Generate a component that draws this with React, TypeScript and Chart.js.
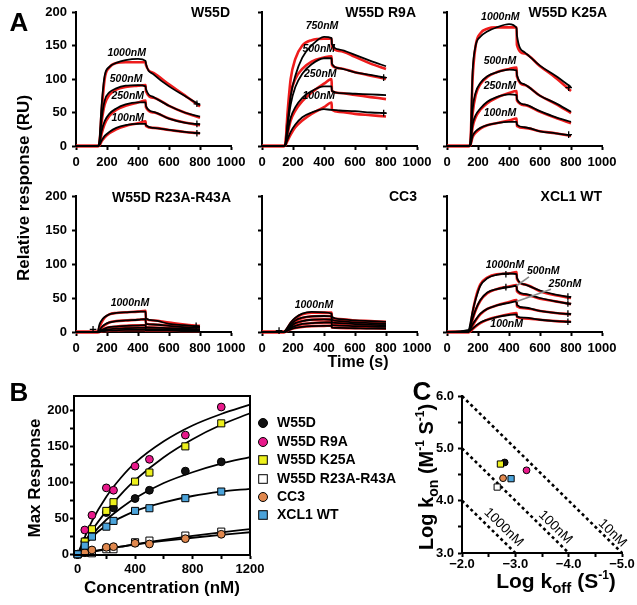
import React, { useEffect, useRef } from 'react';
import { Chart, registerables } from 'chart.js';

Chart.register(...registerables);

const FONT = 'Arial, "Liberation Sans", Helvetica, sans-serif';
const PAGE_W = 637;
const PAGE_H = 605;

/* ================= Panel A : SPR sensorgrams ================= */
const TIME_S = [0, 140, 150, 165, 185, 215, 260, 320, 400, 449, 451, 500, 600, 700, 800];
const A_X_TICKS = [0, 200, 400, 600, 800, 1000];
const A_Y_TICKS = [0, 50, 100, 150, 200];

const CONC_4 = ['1000nM', '500nM', '250nM', '100nM'];
const CONC_R9A = ['750nM', '500nM', '250nM', '100nM'];
const CONC_1 = ['1000nM'];

// W55D
const W55D_BLACK = [
  [0, 0, 5, 60, 105, 118, 124, 128, 130, 127, 123, 107, 89, 75, 61],
  [0, 0, 3, 40, 68, 80, 86, 90, 91, 89, 85, 73, 60, 50, 44],
  [0, 0, 2, 22, 37, 48, 56, 62, 65, 65, 60, 51, 41, 35, 32],
  [0, 0, 1, 8, 15, 21, 27, 31, 33, 33, 31, 27, 24, 21, 19],
];
const W55D_RED = [
  [0, 0, 2, 50, 100, 117, 124, 125, 125, 125, 121, 109, 92, 76, 59],
  [0, 0, 2, 35, 62, 76, 84, 88, 90, 91, 82, 72, 60, 50, 42],
  [0, 0, 1, 18, 33, 45, 54, 60, 65, 68, 58, 50, 41, 35, 31],
  [0, 0, 0, 7, 13, 19, 25, 30, 34, 37, 30, 27, 24, 21, 19],
];
const W55D_LABEL_T = [327, 323, 334, 334];
const W55D_LABEL_V = [139, 100, 75, 41];
const W55D_CROSS_T = [780, 780, 780];
const W55D_CROSS_V = [63, 33, 19];

// W55D R9A
const R9A_BLACK = [
  [0, 0, 2, 35, 75, 105, 132, 150, 163, 161, 152, 144, 136, 127, 119],
  [0, 0, 2, 30, 62, 88, 108, 122, 131, 131, 123, 116, 110, 106, 102],
  [0, 0, 1, 20, 42, 58, 72, 82, 89, 89, 82, 79, 78, 77, 76],
  [0, 0, 1, 10, 21, 32, 43, 50, 55, 54, 54, 53, 52, 50, 49],
];
const R9A_RED = [
  [0, 0, 2, 50, 100, 130, 150, 158, 160, 160, 148, 142, 133, 123, 115],
  [0, 0, 2, 40, 78, 100, 115, 126, 132, 134, 121, 116, 110, 105, 100],
  [0, 0, 1, 18, 38, 53, 67, 80, 93, 100, 82, 79, 76, 73, 70],
  [0, 0, 1, 8, 17, 28, 38, 48, 58, 65, 54, 51, 48, 46, 44],
];
const R9A_LABEL_T = [387, 366, 376, 366];
const R9A_LABEL_V = [179, 145, 107, 75];
const R9A_CROSS_T = [785, 785];
const R9A_CROSS_V = [102, 49];

// W55D K25A
const K25A_BLACK = [
  [0, 0, 3, 110, 150, 163, 171, 177, 182, 176, 165, 140, 120, 105, 88],
  [0, 0, 3, 55, 80, 94, 104, 110, 114, 113, 106, 92, 75, 64, 51],
  [0, 0, 2, 32, 46, 56, 66, 73, 77, 76, 70, 62, 52, 43, 36],
  [0, 0, 1, 15, 22, 27, 31, 34, 36, 36, 32, 28, 22, 19, 16],
];
const K25A_RED = [
  [0, 0, 2, 100, 150, 168, 175, 177, 177, 177, 151, 138, 119, 102, 82],
  [0, 0, 2, 48, 76, 92, 103, 110, 115, 117, 104, 91, 75, 63, 49],
  [0, 0, 1, 28, 43, 54, 64, 72, 79, 82, 68, 61, 51, 42, 34],
  [0, 0, 1, 13, 20, 26, 31, 34, 38, 41, 30, 27, 22, 19, 15],
];
const K25A_LABEL_T = [344, 342, 342, 342];
const K25A_LABEL_V = [193, 126, 90, 49];
const K25A_CROSS_T = [785, 785];
const K25A_CROSS_V = [87, 17];

// W55D R23A-R43A
const R23A_BLACK = [
  [0, 0, 10, 17, 22, 26, 28, 29, 30, 30, 20, 17, 12, 10, 8],
  [0, 0, 2, 7, 11, 14, 16, 17, 18, 19, 12, 11, 9, 7, 6],
  [0, 0, 1, 3, 5, 7, 8, 9, 9.5, 10, 7, 6.5, 5.5, 5, 4],
  [0, 0, 0, 2, 3, 4, 5, 5.5, 6, 6, 4, 4, 3.5, 3, 3],
  [0, 0, 0, 1, 1.5, 2, 2.5, 3, 3, 3, 2, 2, 2, 1.5, 1.5],
];
const R23A_RED = [
  [0, 0, 6, 14, 21, 26, 28, 29, 30, 31, 19, 17, 14, 11, 9],
  [0, 0, 1, 6, 10, 14, 16, 17, 18, 19, 12, 11, 9.5, 8, 6.5],
  [0, 0, 1, 3, 5, 7, 8, 9, 10, 10, 7, 6.5, 5.5, 5, 4.5],
  [0, 0, 0, 2, 3, 4, 5, 5.5, 6, 6, 4, 4, 3.5, 3, 3],
  [0, 0, 0, 1, 1.5, 2, 2.5, 3, 3, 3, 2, 2, 2, 1.5, 1.5],
];
const R23A_LABEL_T = [348];
const R23A_LABEL_V = [43];
const R23A_CROSS_T = [110, 775];
const R23A_CROSS_V = [4, 9];

// CC3
const CC3_BLACK = [
  [0, 0, 2, 7, 14, 21, 27, 29.5, 29, 27, 22, 19, 17, 16, 15],
  [0, 0, 1, 5, 11, 17, 21, 23, 23.5, 23, 18, 16, 14, 13, 12],
  [0, 0, 1, 4, 8, 13, 16, 18, 18.5, 18, 14, 13, 11.5, 10.5, 10],
  [0, 0, 1, 3, 6, 9, 12, 13, 14, 14, 10, 9.5, 8.5, 8, 7.5],
  [0, 0, 0, 2, 4, 6, 7.5, 8.5, 9, 9, 6.5, 6, 5.5, 5, 5],
];
const CC3_RED = [
  [0, 0, 1, 6, 13, 20, 26, 28.5, 28.5, 28.5, 21, 19, 17, 16, 15],
  [0, 0, 1, 5, 10, 16, 20.5, 23, 23.5, 23.5, 17.5, 16, 14.5, 13.5, 12.5],
  [0, 0, 1, 4, 8, 12.5, 16, 18, 18.5, 18.5, 14, 13, 12, 11, 10.5],
  [0, 0, 1, 3, 6, 9, 11.5, 13, 14, 14.5, 10.5, 10, 9, 8.5, 8],
  [0, 0, 0, 2, 4, 6, 7.5, 8.5, 9, 9.5, 6.5, 6, 5.5, 5.5, 5],
];
const CC3_LABEL_T = [335];
const CC3_LABEL_V = [40];
const CC3_CROSS_T = [110];
const CC3_CROSS_V = [2];

// XCL1 WT
const XCL1_BLACK = [
  [0, 3, 12, 30, 48, 68, 79, 84, 86, 85, 80, 70, 61, 55, 51],
  [0, 2, 8, 20, 33, 47, 58, 63, 66, 68, 62, 56, 50, 45, 41],
  [0, 1, 4, 11, 18, 27, 34, 39, 43, 45, 40, 36, 31, 28, 26],
  [0, 0, 2, 5, 9, 14, 18, 22, 25, 26, 23, 21, 18, 16, 15],
];
const XCL1_RED = [
  [0, 0, 5, 28, 50, 70, 80, 85, 86, 88, 78, 70, 60, 54, 50],
  [0, 0, 4, 18, 32, 46, 57, 63, 67, 69, 60, 55, 49, 45, 41],
  [0, 0, 2, 9, 17, 26, 34, 39, 44, 47, 38, 35, 31, 28, 26],
  [0, 0, 1, 4, 8, 13, 18, 22, 26, 28, 22, 20, 18, 16, 15],
];
const XCL1_LABEL_T = [374, 621, 761, 385];
const XCL1_LABEL_V = [99, 89, 70, 12];
const XCL1_CROSS_T = [780, 780, 780, 780, 380, 380];
const XCL1_CROSS_V = [52, 42, 27, 15, 85, 66];
const XCL1_LEADERS = [
  [529, 81, 449, 68],
  [671, 63, 449, 45],
];

/* ================= Panel B : max response ================= */
const B_CONC_NM = [0, 50, 100, 200, 250, 400, 500, 750, 1000];
const B_MAX_W55D = [0, 18, 33, 58, 64.5, 77.5, 89, 115.6, 128.5];
const B_MAX_R9A = [0, 33.8, 54.3, 92.3, 89, 122.5, 132, 165.7, 204.7];
const B_MAX_K25A = [0, 17.6, 34.8, 60.3, 72.4, 101, 113.6, 150, 182];
const B_MAX_R23A = [0, 2, 1.4, 7, 7, 16.7, 19, 26, 31.5];
const B_MAX_CC3 = [0, 2.2, 6, 9.7, 10.6, 15.3, 14.3, 21.7, 27.8];
const B_MAX_XCL1 = [0, 12, 24.5, 38.4, 46.4, 60.3, 64, 78, 87.2];

const B_FIT_X = [0, 100, 200, 300, 400, 600, 800, 1000, 1200];
const B_FIT_W55D = [0, 27, 48, 64, 78, 99, 114, 126, 135];
const B_FIT_R9A = [0, 46, 80, 106, 127, 157, 179, 195, 208];
const B_FIT_K25A = [0, 33, 60, 83, 103, 135, 160, 180, 196];
const B_FIT_R23A = [0, 3.5, 7, 10.5, 14, 20, 25.5, 30.5, 35];
const B_FIT_CC3 = [0, 4, 7.5, 10.5, 13.5, 18.5, 23, 27, 30.6];
const B_FIT_XCL1 = [0, 24, 40, 51, 60, 72, 81, 87, 91];

const B_X_TICKS = [0, 200, 400, 600, 800, 1000, 1200];
const B_Y_TICKS = [0, 25, 50, 75, 100, 125, 150, 175, 200];

const SERIES_NAMES = ['W55D', 'W55D R9A', 'W55D K25A', 'W55D R23A-R43A', 'CC3', 'XCL1 WT'];
const SERIES_COLORS = ['#111111', '#E8198B', '#EDF01C', '#FFFFFF', '#E0884E', '#4BA3DA'];
const SERIES_SHAPES = ['circle', 'circle', 'rect', 'rect', 'circle', 'rect'];
const B_MAX_ALL = [B_MAX_W55D, B_MAX_R9A, B_MAX_K25A, B_MAX_R23A, B_MAX_CC3, B_MAX_XCL1];
const B_FIT_ALL = [B_FIT_W55D, B_FIT_R9A, B_FIT_K25A, B_FIT_R23A, B_FIT_CC3, B_FIT_XCL1];
const B_LEGEND_Y = [423, 442, 460, 479, 497, 515];

/* ================= Panel C : kinetics map ================= */
const C_LOG_KOFF = [-2.8, -3.21, -2.72, -2.66, -2.77, -2.92];
const C_LOG_KON = [4.73, 4.58, 4.7, 4.26, 4.43, 4.42];
const C_KD_NAMES = ['10nM', '100nM', '1000nM'];
const C_KD_LINE_X = [[-2, -5], [-2, -4], [-2, -3]];
const C_KD_LINE_Y = [[6, 3], [5, 3], [4, 3]];
const C_KD_LABEL_X = [-4.82, -3.75, -2.78];
const C_KD_LABEL_Y = [3.38, 3.49, 3.49];
const C_X_TICKS = [-2, -2.5, -3, -3.5, -4, -4.5, -5];
const C_Y_TICKS = [3, 3.5, 4, 4.5, 5, 5.5, 6];

/* ================= helpers ================= */
type Area = { left: number; top: number; right: number; bottom: number };
const Y_FIT = 40;
const X_FIT = 26;

function padFor(a: Area) {
  return { left: a.left - Y_FIT, top: a.top, right: PAGE_W - a.right, bottom: PAGE_H - a.bottom - X_FIT };
}

function axis(o: {
  min: number; max: number; ticks: number[]; label: (v: number) => string;
  tickLength: number; padding: number; horizontal: boolean; reverse?: boolean; size: number;
}) {
  return {
    type: 'linear',
    min: o.min,
    max: o.max,
    reverse: !!o.reverse,
    afterBuildTicks: (s: any) => {
      s.ticks = o.ticks.map((v) => ({ value: v }));
    },
    afterFit: (s: any) => {
      if (o.horizontal) s.height = X_FIT;
      else s.width = Y_FIT;
      s.paddingLeft = 0; s.paddingRight = 0; s.paddingTop = 0; s.paddingBottom = 0;
    },
    border: { display: true, color: '#000', width: 2 },
    grid: { display: true, drawOnChartArea: false, drawTicks: true, tickLength: o.tickLength, tickWidth: 2, tickColor: '#000', color: '#000' },
    ticks: {
      padding: o.padding, color: '#000', autoSkip: false, maxRotation: 0, minRotation: 0,
      font: { family: FONT, size: o.size, weight: 'bold' },
      callback: (v: any) => o.label(Number(v)),
    },
  };
}

function lineDs(xs: number[], ys: number[], color: string, width: number) {
  return {
    type: 'line',
    data: xs.map((x, i) => ({ x, y: ys[i] })),
    borderColor: color,
    borderWidth: width,
    pointRadius: 0,
    fill: false,
    cubicInterpolationMode: 'monotone',
    clip: false,
  };
}

function baseOptions(area: Area, scales: any) {
  return {
    responsive: false,
    animation: false,
    devicePixelRatio: 1,
    events: [],
    layout: { padding: padFor(area) },
    plugins: { legend: { display: false }, tooltip: { enabled: false }, title: { display: false } },
    scales,
  };
}

function drawText(ctx: CanvasRenderingContext2D, s: string, x: number, y: number, font: string, align: CanvasTextAlign = 'center', rot = 0) {
  ctx.save();
  ctx.translate(x, y);
  ctx.rotate(rot);
  ctx.font = font;
  ctx.fillStyle = '#000';
  ctx.textAlign = align;
  ctx.textBaseline = 'middle';
  ctx.fillText(s, 0, 0);
  ctx.restore();
}

type Seg = [string, number, number];
function richText(ctx: CanvasRenderingContext2D, segs: Seg[], cx: number, cy: number, rot: number) {
  ctx.save();
  ctx.translate(cx, cy);
  ctx.rotate(rot);
  ctx.fillStyle = '#000';
  ctx.textAlign = 'left';
  ctx.textBaseline = 'alphabetic';
  let w = 0;
  segs.forEach(([t, s]) => { ctx.font = `bold ${s}px ${FONT}`; w += ctx.measureText(t).width; });
  let x = -w / 2;
  segs.forEach(([t, s, dy]) => {
    ctx.font = `bold ${s}px ${FONT}`;
    ctx.fillText(t, x, dy);
    x += ctx.measureText(t).width;
  });
  ctx.restore();
}

/* ================= Panel A config ================= */
type SensorPanel = {
  area: Area; title: string; titleX: number; titleY: number;
  black: number[][]; red: number[][]; labels: string[]; labelT: number[]; labelV: number[];
  crossT: number[]; crossV: number[]; yLabels: boolean; leaders?: number[][];
};

const TOP_ROW = { top: 12, bottom: 146 };
const BOT_ROW = { top: 196, bottom: 332 };
const COL1 = { left: 76, right: 231 };
const COL2 = { left: 262, right: 417 };
const COL3 = { left: 447, right: 602 };

const SENSOR_PANELS: SensorPanel[] = [
  { area: { ...COL1, ...TOP_ROW }, title: 'W55D', titleX: 230, titleY: 13, black: W55D_BLACK, red: W55D_RED, labels: CONC_4, labelT: W55D_LABEL_T, labelV: W55D_LABEL_V, crossT: W55D_CROSS_T, crossV: W55D_CROSS_V, yLabels: true },
  { area: { ...COL2, ...TOP_ROW }, title: 'W55D R9A', titleX: 416, titleY: 13, black: R9A_BLACK, red: R9A_RED, labels: CONC_R9A, labelT: R9A_LABEL_T, labelV: R9A_LABEL_V, crossT: R9A_CROSS_T, crossV: R9A_CROSS_V, yLabels: false },
  { area: { ...COL3, ...TOP_ROW }, title: 'W55D K25A', titleX: 607, titleY: 13, black: K25A_BLACK, red: K25A_RED, labels: CONC_4, labelT: K25A_LABEL_T, labelV: K25A_LABEL_V, crossT: K25A_CROSS_T, crossV: K25A_CROSS_V, yLabels: false },
  { area: { ...COL1, ...BOT_ROW }, title: 'W55D R23A-R43A', titleX: 231, titleY: 198, black: R23A_BLACK, red: R23A_RED, labels: CONC_1, labelT: R23A_LABEL_T, labelV: R23A_LABEL_V, crossT: R23A_CROSS_T, crossV: R23A_CROSS_V, yLabels: true },
  { area: { ...COL2, ...BOT_ROW }, title: 'CC3', titleX: 417, titleY: 197, black: CC3_BLACK, red: CC3_RED, labels: CONC_1, labelT: CC3_LABEL_T, labelV: CC3_LABEL_V, crossT: CC3_CROSS_T, crossV: CC3_CROSS_V, yLabels: false },
  { area: { ...COL3, ...BOT_ROW }, title: 'XCL1 WT', titleX: 602, titleY: 197, black: XCL1_BLACK, red: XCL1_RED, labels: CONC_4, labelT: XCL1_LABEL_T, labelV: XCL1_LABEL_V, crossT: XCL1_CROSS_T, crossV: XCL1_CROSS_V, yLabels: false, leaders: XCL1_LEADERS },
];

function sensorConfig(p: SensorPanel) {
  const datasets: any[] = [];
  datasets.push({
    type: 'scatter',
    data: p.crossT.map((t, i) => ({ x: t, y: p.crossV[i] })),
    pointStyle: 'cross', pointRadius: 3.3, pointBorderColor: '#000', pointBorderWidth: 1.3, clip: false,
  });
  p.black.forEach((v) => datasets.push(lineDs(TIME_S, v, '#000000', 1.8)));
  p.red.forEach((v) => datasets.push(lineDs(TIME_S, v, '#EE1C1C', 2.6)));
  const scales = {
    x: axis({ min: 0, max: 1000, ticks: A_X_TICKS, label: (v) => String(v), tickLength: 4, padding: 5, horizontal: true, size: 13 }),
    y: axis({ min: 0, max: 200, ticks: A_Y_TICKS, label: (v) => (p.yLabels ? String(v) : ''), tickLength: 4, padding: 5, horizontal: false, size: 13 }),
  };
  const deco = {
    id: 'sensorDeco',
    afterDraw(chart: any) {
      const ctx: CanvasRenderingContext2D = chart.ctx;
      const sx = chart.scales.x;
      const sy = chart.scales.y;
      drawText(ctx, p.title, p.titleX, p.titleY, `bold 14px ${FONT}`, 'right');
      p.labels.forEach((s, i) => {
        drawText(ctx, s, sx.getPixelForValue(p.labelT[i]), sy.getPixelForValue(p.labelV[i]), `italic bold 10.5px ${FONT}`, 'center');
      });
      (p.leaders || []).forEach((l) => {
        ctx.save();
        ctx.strokeStyle = '#8a8a8a';
        ctx.lineWidth = 1.6;
        ctx.beginPath();
        ctx.moveTo(sx.getPixelForValue(l[0]), sy.getPixelForValue(l[1]));
        ctx.lineTo(sx.getPixelForValue(l[2]), sy.getPixelForValue(l[3]));
        ctx.stroke();
        ctx.restore();
      });
    },
  };
  return { type: 'line', data: { datasets }, options: baseOptions(p.area, scales), plugins: [deco] };
}

/* ================= Panel B config ================= */
const B_AREA: Area = { left: 74, top: 396, right: 250, bottom: 555 };

function panelBConfig() {
  const order = [5, 4, 3, 2, 1, 0];
  const points = order.map((k) => ({
    type: 'scatter',
    data: B_CONC_NM.map((x, i) => ({ x, y: B_MAX_ALL[k][i] })),
    pointStyle: SERIES_SHAPES[k],
    pointRadius: SERIES_SHAPES[k] === 'rect' ? 5 : 3.9,
    pointBackgroundColor: SERIES_COLORS[k],
    pointBorderColor: '#000',
    pointBorderWidth: 1,
    clip: false,
  }));
  const curves = B_FIT_ALL.map((ys) => lineDs(B_FIT_X, ys, '#000000', 1.8));
  const scales = {
    x: axis({ min: -25, max: 1200, ticks: B_X_TICKS, label: (v) => (v % 400 === 0 ? String(v) : ''), tickLength: 4, padding: 3, horizontal: true, size: 13 }),
    y: axis({ min: -1, max: 220, ticks: B_Y_TICKS, label: (v) => (v % 50 === 0 ? String(v) : ''), tickLength: 4, padding: 1, horizontal: false, size: 13 }),
  };
  const deco = {
    id: 'bDeco',
    afterDraw(chart: any) {
      const ctx: CanvasRenderingContext2D = chart.ctx;
      const a = chart.chartArea;
      ctx.save();
      ctx.strokeStyle = '#000';
      ctx.lineWidth = 2;
      ctx.strokeRect(a.left, a.top, a.right - a.left, a.bottom - a.top);
      ctx.restore();
      drawText(ctx, 'Concentration (nM)', 162, 588, `bold 17px ${FONT}`, 'center');
      drawText(ctx, 'Max Response', 35, 478, `bold 17px ${FONT}`, 'center', -Math.PI / 2);
      SERIES_NAMES.forEach((name, k) => {
        const y = B_LEGEND_Y[k];
        const x = 263;
        ctx.save();
        ctx.fillStyle = SERIES_COLORS[k];
        ctx.strokeStyle = '#000';
        ctx.lineWidth = 1;
        if (SERIES_SHAPES[k] === 'rect') {
          ctx.fillRect(x - 4.3, y - 4.3, 8.6, 8.6);
          ctx.strokeRect(x - 4.3, y - 4.3, 8.6, 8.6);
        } else {
          ctx.beginPath();
          ctx.arc(x, y, 4.5, 0, Math.PI * 2);
          ctx.fill();
          ctx.stroke();
        }
        ctx.restore();
        drawText(ctx, name, 277, y + 0.5, `bold 14px ${FONT}`, 'left');
      });
    },
  };
  return { type: 'line', data: { datasets: [...points, ...curves] }, options: baseOptions(B_AREA, scales), plugins: [deco] };
}

/* ================= Panel C config ================= */
const C_AREA: Area = { left: 462, top: 396, right: 622, bottom: 553 };

function cLabel(v: number) {
  if (!Number.isInteger(v)) return '';
  return v < 0 ? '\u2212' + Math.abs(v).toFixed(1) : v.toFixed(1);
}

function panelCConfig() {
  const order = [5, 4, 3, 2, 1, 0];
  const points = order.map((k) => ({
    type: 'scatter',
    data: [{ x: C_LOG_KOFF[k], y: C_LOG_KON[k] }],
    pointStyle: SERIES_SHAPES[k],
    pointRadius: SERIES_SHAPES[k] === 'rect' ? 4.4 : 3.4,
    pointBackgroundColor: SERIES_COLORS[k],
    pointBorderColor: '#000',
    pointBorderWidth: 1,
    clip: false,
  }));
  const lines = C_KD_LINE_X.map((xs, i) => ({
    ...lineDs(xs, C_KD_LINE_Y[i], '#000000', 2.6),
    cubicInterpolationMode: 'default',
    borderDash: [3, 3],
    borderCapStyle: 'butt',
  }));
  const scales = {
    x: axis({ min: -5, max: -2, reverse: true, ticks: C_X_TICKS, label: cLabel, tickLength: 4, padding: 0, horizontal: true, size: 13 }),
    y: axis({ min: 3, max: 6, ticks: C_Y_TICKS, label: cLabel, tickLength: 4, padding: 4, horizontal: false, size: 13 }),
  };
  const deco = {
    id: 'cDeco',
    afterDraw(chart: any) {
      const ctx: CanvasRenderingContext2D = chart.ctx;
      const sx = chart.scales.x;
      const sy = chart.scales.y;
      const ang = Math.atan2(
        sy.getPixelForValue(3) - sy.getPixelForValue(4),
        sx.getPixelForValue(-3) - sx.getPixelForValue(-2),
      );
      C_KD_NAMES.forEach((s, i) => {
        drawText(ctx, s, sx.getPixelForValue(C_KD_LABEL_X[i]), sy.getPixelForValue(C_KD_LABEL_Y[i]), `13.5px ${FONT}`, 'center', ang);
      });
      richText(ctx, [['Log k', 21, 0], ['off', 15, 5], [' (S', 21, 0], ['-1', 12, -9], [')', 21, 0]], 556, 588, 0);
      richText(ctx, [['Log k', 20, 0], ['on', 14, 5], [' (M', 20, 0], ['-1', 12, -9], [' S', 20, 0], ['-1', 12, -9], [')', 20, 0]], 433, 477, -Math.PI / 2);
      // page-level text
      drawText(ctx, 'A', 19, 24, `bold 26px ${FONT}`);
      drawText(ctx, 'B', 19, 394, `bold 26px ${FONT}`);
      drawText(ctx, 'C', 422, 393, `bold 26px ${FONT}`);
      drawText(ctx, 'Relative response (RU)', 24, 188, `bold 17px ${FONT}`, 'center', -Math.PI / 2);
      drawText(ctx, 'Time (s)', 358, 363, `bold 16px ${FONT}`);
    },
  };
  return { type: 'line', data: { datasets: [...points, ...lines] }, options: baseOptions(C_AREA, scales), plugins: [deco] };
}

/* ================= App ================= */
export default function App() {
  const refs = useRef<(HTMLCanvasElement | null)[]>([]);
  const count = SENSOR_PANELS.length + 2;

  useEffect(() => {
    const configs: any[] = [...SENSOR_PANELS.map(sensorConfig), panelBConfig(), panelCConfig()];
    const charts = configs.map((cfg, i) => new Chart(refs.current[i] as HTMLCanvasElement, cfg));
    return () => charts.forEach((c) => c.destroy());
  }, []);

  return (
    <div style={{ position: 'absolute', left: 0, top: 0, width: PAGE_W, height: PAGE_H, background: '#fff' }}>
      {Array.from({ length: count }, (_, i) => (
        <canvas
          key={i}
          ref={(el) => { refs.current[i] = el; }}
          width={PAGE_W}
          height={PAGE_H}
          style={{ position: 'absolute', left: 0, top: 0, width: PAGE_W, height: PAGE_H }}
        />
      ))}
    </div>
  );
}
